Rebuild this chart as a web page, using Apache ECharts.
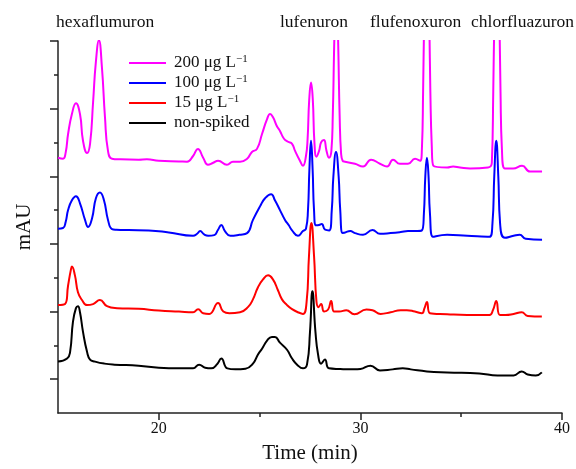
<!DOCTYPE html>
<html>
<head>
<meta charset="utf-8">
<script src="https://cdn.jsdelivr.net/npm/echarts@6/dist/echarts.min.js"></script>
<style>
  html, body { margin: 0; padding: 0; background: #fff; }
  #chart { width: 576px; height: 469px; }
</style>
</head>
<body>
<div id="chart"></div>
<script>
// Chromatograms: [retention time (min), detector response (offset trace units)]
const trace200 = [
  [15.00,7.55],[15.25,7.52],[15.38,7.70],[15.50,8.25],[15.69,8.84],[15.89,9.16],[16.09,8.84],
  [16.24,8.05],[16.44,7.69],[16.59,7.96],[16.74,9.19],[16.88,10.39],[17.03,11.02],[17.18,10.21],
  [17.33,8.75],[17.48,7.75],[17.68,7.52],[18.10,7.50],[19.00,7.49],[19.41,7.50],[20.00,7.46],
  [21.00,7.44],[21.40,7.43],[21.70,7.60],[21.94,7.81],[22.20,7.55],[22.44,7.34],[22.70,7.40],
  [22.94,7.46],[23.38,7.34],[23.68,7.43],[24.03,7.43],[24.38,7.52],[24.62,7.72],[24.87,7.81],
  [25.12,8.25],[25.37,8.69],[25.52,8.84],[25.66,8.75],[25.86,8.48],[26.01,8.34],[26.21,8.11],
  [26.41,8.02],[26.61,7.96],[26.76,7.75],[27.00,7.46],[27.15,7.31],[27.30,7.60],[27.38,8.10],
  [27.46,9.25],[27.55,9.77],[27.64,9.25],[27.72,8.00],[27.82,7.58],[27.95,7.75],[28.05,8.00],
  [28.19,8.07],[28.32,7.75],[28.44,7.55],[28.56,7.75],[28.63,8.80],[28.69,10.60],[28.73,11.80],
  [28.80,14.50],[28.87,11.80],[28.91,10.60],[28.97,8.80],[29.04,7.70],[29.12,7.46],[29.24,7.43],
  [29.73,7.37],[30.13,7.29],[30.53,7.49],[30.97,7.37],[31.32,7.29],[31.62,7.49],[31.96,7.37],
  [32.36,7.37],[32.71,7.52],[32.96,7.46],[33.05,7.80],[33.11,9.50],[33.16,11.50],[33.29,15.00],
  [33.42,11.50],[33.47,9.50],[33.54,7.90],[33.62,7.31],[34.30,7.26],[34.60,7.29],[34.94,7.26],
  [35.44,7.23],[36.33,7.26],[36.52,7.40],[36.59,9.50],[36.64,11.50],[36.77,15.00],[36.90,11.50],
  [36.95,9.50],[37.02,7.80],[37.17,7.23],[37.57,7.23],[38.02,7.31],[38.41,7.14],[39.01,7.14]
];
const trace100 = [
  [15.00,5.45],[15.25,5.47],[15.38,5.65],[15.50,6.00],[15.69,6.29],[15.89,6.41],[16.09,6.20],
  [16.34,5.71],[16.49,5.50],[16.69,5.76],[16.88,6.35],[17.08,6.52],[17.28,6.29],[17.48,5.71],
  [17.68,5.44],[17.90,5.42],[18.50,5.41],[19.50,5.40],[20.50,5.34],[21.70,5.24],[21.90,5.30],
  [22.05,5.38],[22.25,5.28],[22.45,5.24],[22.75,5.26],[22.94,5.42],[23.10,5.56],[23.28,5.38],
  [23.55,5.24],[24.00,5.27],[24.38,5.32],[24.67,5.71],[25.02,6.11],[25.27,6.35],[25.57,6.47],
  [25.76,6.29],[26.01,6.00],[26.26,5.71],[26.45,5.55],[26.61,5.40],[26.90,5.24],[27.15,5.38],
  [27.30,5.45],[27.40,6.00],[27.47,7.20],[27.55,8.05],[27.63,7.20],[27.70,6.00],[27.80,5.55],
  [27.95,5.56],[28.08,5.59],[28.25,5.42],[28.45,5.40],[28.58,6.00],[28.66,7.00],[28.79,7.72],
  [28.92,7.00],[29.00,6.00],[29.12,5.32],[29.24,5.34],[29.50,5.38],[29.73,5.32],[30.13,5.27],
  [30.60,5.41],[30.97,5.30],[31.50,5.32],[32.00,5.35],[32.36,5.38],[32.70,5.38],[33.05,5.40],
  [33.15,5.90],[33.22,7.00],[33.30,7.55],[33.38,7.00],[33.45,5.90],[33.60,5.21],[34.30,5.27],
  [35.30,5.24],[36.40,5.21],[36.55,5.60],[36.64,7.00],[36.74,8.05],[36.84,7.00],[36.93,5.60],
  [37.17,5.18],[37.60,5.24],[37.90,5.27],[38.20,5.15],[39.01,5.12]
];
const trace15 = [
  [15.00,3.19],[15.35,3.22],[15.50,3.77],[15.64,4.24],[15.69,4.33],[15.84,4.07],[15.99,3.57],
  [16.19,3.34],[16.44,3.19],[16.74,3.22],[17.08,3.34],[17.43,3.16],[17.93,3.10],[19.00,3.08],
  [20.00,3.03],[21.00,3.00],[21.70,2.98],[21.95,3.07],[22.20,2.95],[22.50,2.93],[22.94,3.25],
  [23.20,3.00],[23.50,2.95],[24.03,2.98],[24.42,3.13],[24.67,3.36],[24.92,3.72],[25.17,3.95],
  [25.42,4.07],[25.66,3.95],[25.91,3.63],[26.11,3.36],[26.36,3.19],[26.61,3.07],[26.90,2.98],
  [27.15,2.93],[27.33,3.28],[27.45,4.65],[27.57,5.62],[27.70,4.65],[27.82,3.30],[27.92,3.13],
  [28.05,3.22],[28.20,3.00],[28.40,3.06],[28.55,3.31],[28.70,3.00],[28.95,3.00],[29.30,3.04],
  [29.70,2.92],[30.30,3.06],[30.60,3.04],[31.00,2.93],[31.50,2.98],[32.00,3.04],[32.30,3.04],
  [32.70,3.00],[33.05,2.95],[33.18,3.10],[33.30,3.28],[33.45,2.95],[34.30,2.92],[35.30,2.90],
  [36.40,2.90],[36.58,3.05],[36.74,3.31],[36.92,2.90],[37.20,2.90],[37.60,2.93],[38.00,2.98],
  [38.30,2.87],[39.00,2.85]
];
const traceBlank = [
  [15.00,1.52],[15.45,1.61],[15.60,1.81],[15.74,2.69],[15.89,3.10],[15.99,3.16],[16.09,2.98],
  [16.24,2.40],[16.44,1.81],[16.59,1.58],[16.84,1.52],[17.30,1.46],[17.80,1.43],[19.00,1.40],
  [20.00,1.34],[21.00,1.32],[21.70,1.32],[22.00,1.43],[22.30,1.34],[22.60,1.32],[22.90,1.45],
  [23.10,1.61],[23.40,1.32],[23.80,1.29],[24.30,1.31],[24.67,1.46],[24.92,1.73],[25.12,1.90],
  [25.37,2.14],[25.61,2.25],[25.76,2.25],[26.01,2.08],[26.36,1.87],[26.61,1.61],[26.86,1.43],
  [27.15,1.32],[27.35,1.43],[27.50,2.40],[27.62,3.60],[27.77,2.40],[27.90,1.73],[28.05,1.46],
  [28.24,1.58],[28.44,1.32],[29.00,1.30],[29.70,1.29],[30.00,1.30],[30.50,1.40],[30.97,1.26],
  [31.60,1.29],[32.10,1.32],[32.50,1.29],[33.30,1.23],[34.30,1.20],[35.90,1.17],[36.80,1.11],
  [37.20,1.11],[37.60,1.11],[38.00,1.23],[38.30,1.14],[38.70,1.11],[39.00,1.20]
];

const seriesNames = ['200 μg L⁻¹', '100 μg L⁻¹', '15 μg L⁻¹', 'non-spiked'];
const seriesColors = ['#ff00ff', '#0000ff', '#ff0000', '#000000'];
const seriesData = [trace200, trace100, trace15, traceBlank];

const compoundNames = ['hexaflumuron', 'lufenuron', 'flufenoxuron', 'chlorfluazuron'];

const xMajorTicks = [20, 30, 40];
const xMinorTicks = [25, 35];
const yMajorTicks = [1, 3, 5, 7, 9, 11];
const yMinorTicks = [2, 4, 6, 8, 10];

const SERIF = "'Liberation Serif', 'Times New Roman', serif";
const AXIS_COLOR = '#222';

// left edge of each compound label
const compoundLeft = [56, 280, 370, 471];

const chart = echarts.init(document.getElementById('chart'), null, { renderer: 'canvas' });

chart.setOption({
  animation: false,
  backgroundColor: '#fff',
  grid: { left: 58, right: 14, top: 41, bottom: 52 },
  legend: {
    orient: 'vertical',
    left: 124,
    top: 49,
    icon: 'rect',
    itemWidth: 37,
    itemHeight: 2,
    itemGap: 2,
    data: seriesNames,
    textStyle: {
      fontFamily: SERIF,
      fontSize: 17,
      lineHeight: 18,
      color: '#111',
      padding: [0, 0, 0, 3],
      rich: {
        sup: { fontFamily: SERIF, fontSize: 11, lineHeight: 11, color: '#111', padding: [0, 0, 7, 0] }
      }
    },
    formatter: function (name) {
      return name.replace('⁻¹', '{sup|−1}');
    }
  },
  xAxis: [
    {
      type: 'value', min: 15, max: 40, position: 'bottom',
      name: 'Time (min)', nameLocation: 'middle', nameGap: 30,
      nameTextStyle: { fontFamily: SERIF, fontSize: 21, color: '#111' },
      axisLine: { lineStyle: { color: AXIS_COLOR, width: 1.5 } },
      axisTick: { customValues: xMajorTicks, length: 7, lineStyle: { color: AXIS_COLOR, width: 1.5 } },
      axisLabel: { customValues: xMajorTicks, margin: 8, fontFamily: SERIF, fontSize: 16, color: '#111' },
      splitLine: { show: false }
    },
    {
      type: 'value', min: 15, max: 40, position: 'bottom',
      axisLine: { show: false },
      axisTick: { customValues: xMinorTicks, length: 4, lineStyle: { color: AXIS_COLOR, width: 1.5 } },
      axisLabel: { show: false },
      splitLine: { show: false }
    }
  ],
  yAxis: [
    {
      type: 'value', min: 0, max: 11, position: 'left',
      name: 'mAU', nameLocation: 'middle', nameGap: 23,
      nameTextStyle: { fontFamily: SERIF, fontSize: 21, color: '#111' },
      axisLine: { show: true, lineStyle: { color: AXIS_COLOR, width: 1.5 } },
      axisTick: { show: true, customValues: yMajorTicks, length: 8, lineStyle: { color: AXIS_COLOR, width: 1.5 } },
      axisLabel: { show: false },
      splitLine: { show: false }
    },
    {
      type: 'value', min: 0, max: 11, position: 'left',
      axisLine: { show: false },
      axisTick: { show: true, customValues: yMinorTicks, length: 4, lineStyle: { color: AXIS_COLOR, width: 1.5 } },
      axisLabel: { show: false },
      splitLine: { show: false }
    }
  ],
  graphic: compoundNames.map(function (label, i) {
    return {
      type: 'text',
      left: compoundLeft[i],
      top: 13,
      style: { text: label, font: '17.5px ' + SERIF, fill: '#111' }
    };
  }),
  series: seriesData.map(function (data, i) {
    return {
      name: seriesNames[i],
      type: 'line',
      xAxisIndex: 0,
      yAxisIndex: 0,
      data: data,
      symbol: 'none',
      smooth: 0.5,
      clip: true,
      color: seriesColors[i],
      lineStyle: { color: seriesColors[i], width: 2, join: 'round' }
    };
  })
});
</script>
</body>
</html>
